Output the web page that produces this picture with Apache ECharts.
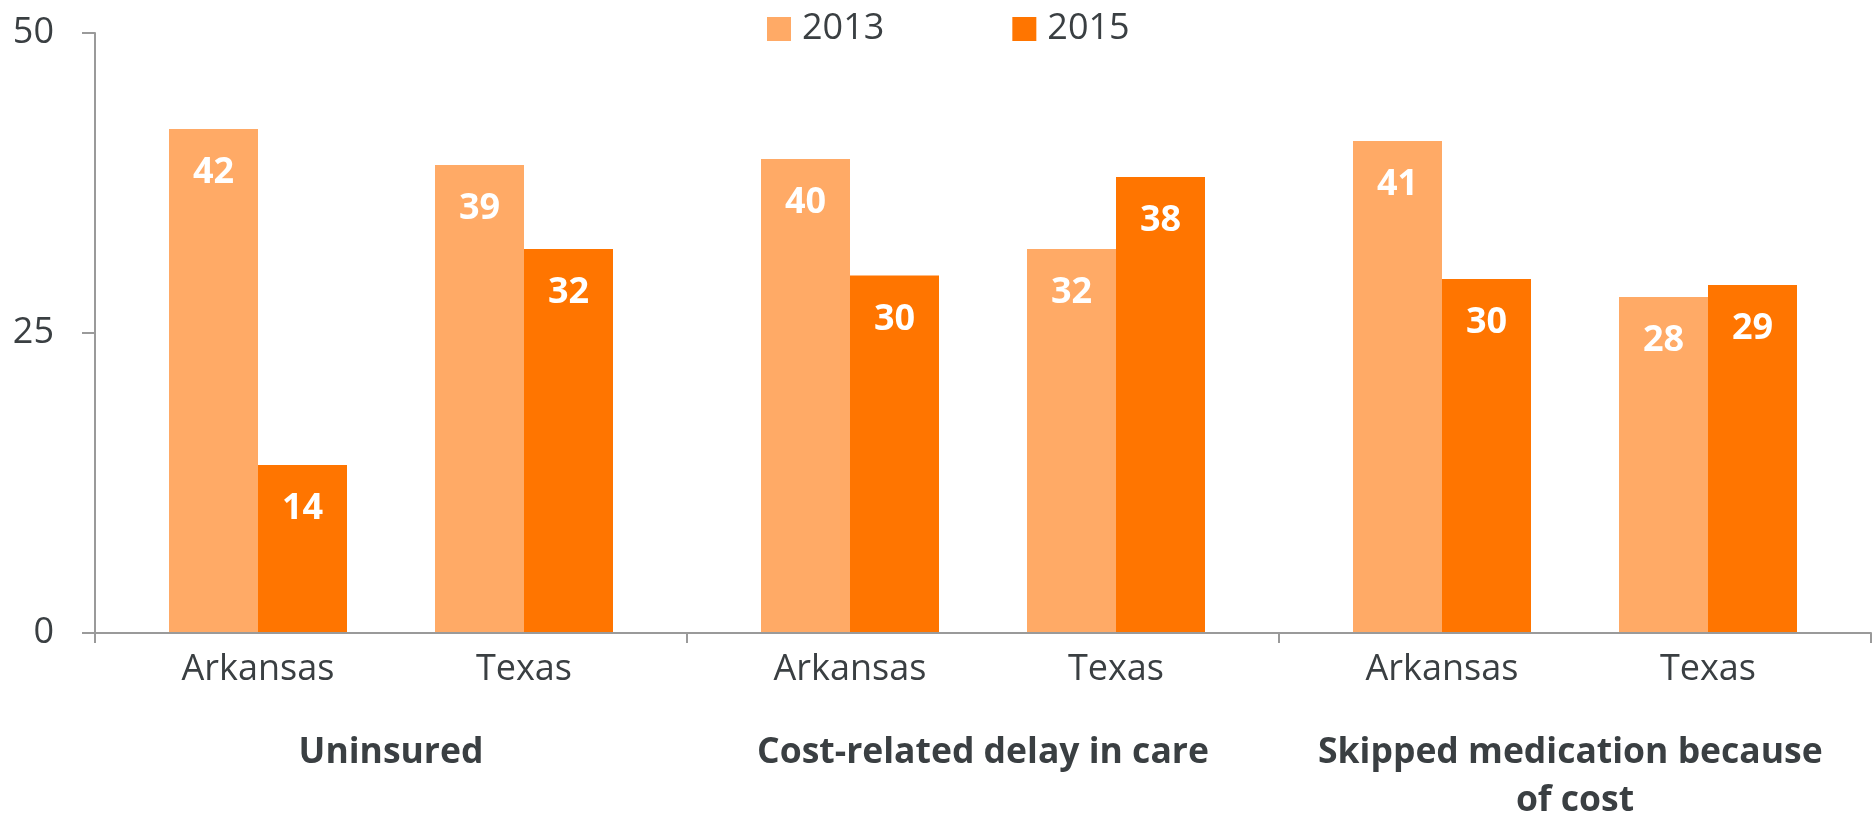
<!DOCTYPE html>
<html>
<head>
<meta charset="utf-8">
<script src="https://cdn.jsdelivr.net/npm/echarts@6/dist/echarts.min.js"></script>
<style>
  html, body { margin: 0; padding: 0; background: #fff; }
  #chart { width: 1874px; height: 815px; }
</style>
</head>
<body>
<div id="chart"></div>
<script>
// categories
const groups = ["Uninsured", "Cost-related delay in care", "Skipped medication because of cost"];
const states = ["Arkansas", "Texas"];
const years = ["2013", "2015"];

// values, per group: [Arkansas, Texas] (labels show rounded values)
const values2013 = [[42, 39], [39.5, 32], [41, 28]];
const values2015 = [[14, 32], [29.8, 38], [29.5, 29]];

// y ticks
const yMin = 0;
const yMax = 50;
const yStep = 25;

const colors = ["#FFAA66", "#FF7500"];
const textColor = "#3a3f42";
const axisColor = "#9a9a9a";
const font = "'Open Sans', 'Noto Sans', sans-serif";

// layout of the plot area
const plotLeft = 95;
const plotTop = 33;
const plotWidth = 1776;
const plotHeight = 600;
const groupWidth = plotWidth / groups.length;
const innerInset = 30;

let chart = echarts.init(document.getElementById("chart"));

let grids = [
  { left: plotLeft, top: plotTop, width: plotWidth, height: plotHeight, outerBoundsMode: "none" },
];
let xAxes = [
  {
    gridIndex: 0,
    type: "category",
    data: groups,
    z: 5,
    axisLine: { lineStyle: { color: axisColor, width: 2 } },
    axisTick: { show: true, length: 10, interval: 0, lineStyle: { color: axisColor, width: 2 } },
    axisLabel: {
      interval: 0,
      margin: 96,
      color: textColor,
      fontFamily: font,
      fontWeight: "bold",
      fontSize: 35.5,
      lineHeight: 48,
      width: 530,
      overflow: "break",
    },
  },
];
let yAxes = [
  {
    gridIndex: 0,
    type: "value",
    min: yMin,
    max: yMax,
    interval: yStep,
    z: 5,
    axisLine: { show: true, lineStyle: { color: axisColor, width: 2 } },
    axisTick: { show: true, length: 13, lineStyle: { color: axisColor, width: 2 } },
    splitLine: { show: false },
    axisLabel: { margin: 41, color: textColor, fontFamily: font, fontSize: 36 },
  },
];
let series = [];

groups.forEach((g, i) => {
  let idx = i + 1;
  grids.push({
    left: plotLeft + groupWidth * i + innerInset,
    top: plotTop,
    width: groupWidth - innerInset * 2,
    height: plotHeight,
    outerBoundsMode: "none",
  });
  xAxes.push({
    gridIndex: idx,
    type: "category",
    data: states,
    axisLine: { show: false },
    axisTick: { show: false },
    axisLabel: { margin: 19, color: textColor, fontFamily: font, fontSize: 36 },
  });
  yAxes.push({
    gridIndex: idx,
    type: "value",
    min: yMin,
    max: yMax,
    interval: yStep,
    show: false,
  });
  [values2013, values2015].forEach((vals, k) => {
    series.push({
      name: years[k],
      type: "bar",
      xAxisIndex: idx,
      yAxisIndex: idx,
      barWidth: 89,
      barGap: "0%",
      itemStyle: { color: colors[k] },
      label: {
        show: true,
        position: "insideTop",
        distance: 26,
        color: "#fff",
        fontFamily: font,
        fontWeight: "bold",
        fontSize: 36,
        formatter: (p) => Math.round(p.value),
      },
      data: vals[i],
    });
  });
});

let option = {
  animation: false,
  color: colors,
  legend: {
    data: years,
    left: 762,
    top: 6,
    icon: "rect",
    itemWidth: 24,
    itemHeight: 24,
    itemGap: 128,
    textStyle: {
      color: textColor,
      fontFamily: font,
      fontSize: 36,
      padding: [0, 0, 0, 6],
    },
  },
  grid: grids,
  xAxis: xAxes,
  yAxis: yAxes,
  series: series,
};
chart.setOption(option);
</script>
</body>
</html>
